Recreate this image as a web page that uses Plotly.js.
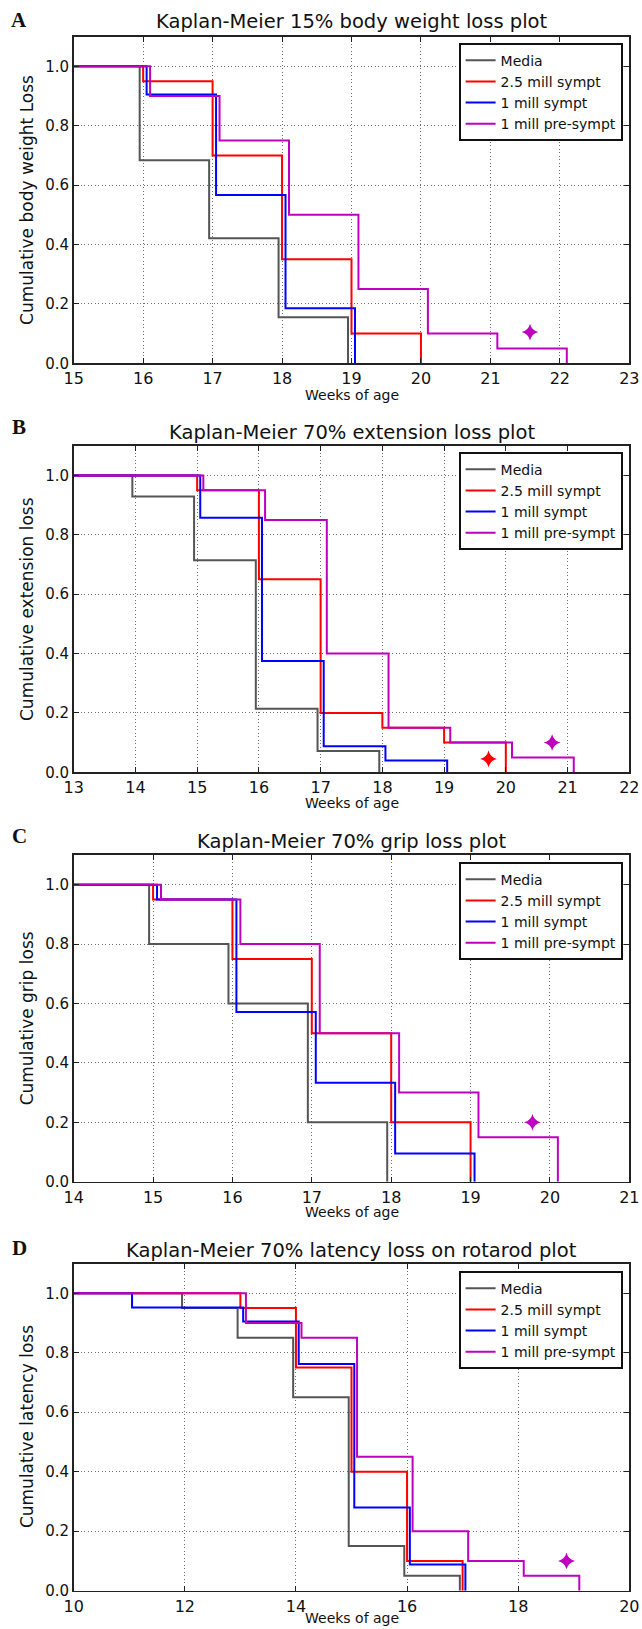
<!DOCTYPE html>
<html>
<head>
<meta charset="utf-8">
<script src="https://cdn.plot.ly/plotly-3.0.1.min.js"></script>
<style>
  html, body { margin: 0; padding: 0; background: #ffffff; }
  #chart { width: 642px; height: 1629px; }
</style>
</head>
<body>
<div id="chart"></div>
<script>
// ---------------- DATA ----------------
const seriesNames = ["Media", "2.5 mill sympt", "1 mill sympt", "1 mill pre-sympt"];
const panelLetters = ["A", "B", "C", "D"];
const panelTitles = [
  "Kaplan-Meier 15% body weight loss plot",
  "Kaplan-Meier 70% extension loss plot",
  "Kaplan-Meier 70% grip loss plot",
  "Kaplan-Meier 70% latency loss on rotarod plot"
];
const yTitles = [
  "Cumulative body weight Loss",
  "Cumulative extension loss",
  "Cumulative grip loss",
  "Cumulative latency loss"
];
const xTitle = "Weeks of age";

// x axis ranges and ticks
const xRangeA = [15, 23]; const xTicksA = [15, 16, 17, 18, 19, 20, 21, 22, 23];
const xRangeB = [13, 22]; const xTicksB = [13, 14, 15, 16, 17, 18, 19, 20, 21, 22];
const xRangeC = [14, 21]; const xTicksC = [14, 15, 16, 17, 18, 19, 20, 21];
const xRangeD = [10, 20]; const xTicksD = [10, 12, 14, 16, 18, 20];
const yRange = [0, 1.1];
const yTickVals = [0.0, 0.2, 0.4, 0.6, 0.8, 1.0];
const yTickText = ["0.0", "0.2", "0.4", "0.6", "0.8", "1.0"];

// Panel A : 15% body weight loss  (event times, level after each step)
const timesA_media = [15.95, 16.95, 17.95, 18.95];
const levelsA_media = [0.684, 0.421, 0.155, 0.0];
const timesA_r25 = [16.0, 17.0, 18.0, 19.0, 20.0];
const levelsA_r25 = [0.95, 0.70, 0.35, 0.10, 0.0];
const timesA_b1 = [16.05, 17.05, 18.05, 19.05];
const levelsA_b1 = [0.905, 0.567, 0.185, 0.0];
const timesA_pre = [16.1, 17.1, 18.1, 19.1, 20.1, 21.1, 22.1];
const levelsA_pre = [0.90, 0.75, 0.50, 0.25, 0.10, 0.05, 0.0];
const starsA_x = [21.57]; const starsA_y = [0.105]; const starsA_series = [3];

// Panel B : 70% extension loss
const timesB_media = [13.95, 14.95, 15.95, 16.95, 17.95];
const levelsB_media = [0.929, 0.714, 0.214, 0.072, 0.0];
const timesB_r25 = [15.0, 16.0, 17.0, 18.0, 19.0, 20.0];
const levelsB_r25 = [0.95, 0.65, 0.20, 0.15, 0.10, 0.0];
const timesB_b1 = [15.05, 16.05, 17.05, 18.05, 19.05];
const levelsB_b1 = [0.857, 0.375, 0.088, 0.040, 0.0];
const timesB_pre = [15.1, 16.1, 17.1, 18.1, 19.1, 20.1, 21.1];
const levelsB_pre = [0.95, 0.85, 0.40, 0.15, 0.10, 0.05, 0.0];
const starsB_x = [19.72, 20.75]; const starsB_y = [0.045, 0.10]; const starsB_series = [1, 3];

// Panel C : 70% grip loss
const timesC_media = [14.95, 15.95, 16.95, 17.95];
const levelsC_media = [0.80, 0.60, 0.20, 0.0];
const timesC_r25 = [15.0, 16.0, 17.0, 18.0, 19.0];
const levelsC_r25 = [0.95, 0.75, 0.50, 0.20, 0.0];
const timesC_b1 = [15.05, 16.05, 17.05, 18.05, 19.05];
const levelsC_b1 = [0.95, 0.571, 0.333, 0.095, 0.0];
const timesC_pre = [15.1, 16.1, 17.1, 18.1, 19.1, 20.1];
const levelsC_pre = [0.95, 0.80, 0.50, 0.30, 0.15, 0.0];
const starsC_x = [19.78]; const starsC_y = [0.20]; const starsC_series = [3];

// Panel D : 70% latency loss on rotarod
const timesD_media = [11.95, 12.95, 13.95, 14.95, 15.95, 16.95];
const levelsD_media = [0.95, 0.85, 0.65, 0.15, 0.05, 0.0];
const timesD_r25 = [13.0, 14.0, 15.0, 16.0, 17.0];
const levelsD_r25 = [0.95, 0.75, 0.40, 0.10, 0.0];
const timesD_b1 = [11.05, 13.05, 14.05, 15.05, 16.05, 17.05];
const levelsD_b1 = [0.952, 0.905, 0.762, 0.28, 0.088, 0.0];
const timesD_pre = [13.1, 14.1, 15.1, 16.1, 17.1, 18.1, 19.1];
const levelsD_pre = [0.90, 0.85, 0.45, 0.20, 0.10, 0.05, 0.0];
const starsD_x = [18.87]; const starsD_y = [0.10]; const starsD_series = [3];

// ---------------- STYLE / GEOMETRY ----------------
const seriesColors = ["#555555", "#ff0000", "#0000ff", "#bf00bf"];
const W = 642, H = 1629;
const plotLeft = 73.7, plotRight = 629.3;
const panelTops = [36.6, 445.7, 855.0, 1263.5];
const panelBottoms = [363.3, 772.3, 1181.7, 1590.7];
const titleY = [22, 432, 841, 1250];
const letterY = [20, 427, 836, 1248];
const xTitleY = [395, 803, 1212, 1618];
const legendTop = [43, 452, 862, 1271];
const legendRight = 623;

const FONT = "DejaVu Sans, sans-serif";
function px(x) { return x / W; }
function py(y) { return 1 - y / H; }

const panels = [
  { xr: xRangeA, xt: xTicksA, t: [timesA_media, timesA_r25, timesA_b1, timesA_pre],
    l: [levelsA_media, levelsA_r25, levelsA_b1, levelsA_pre], sx: starsA_x, sy: starsA_y, ss: starsA_series },
  { xr: xRangeB, xt: xTicksB, t: [timesB_media, timesB_r25, timesB_b1, timesB_pre],
    l: [levelsB_media, levelsB_r25, levelsB_b1, levelsB_pre], sx: starsB_x, sy: starsB_y, ss: starsB_series },
  { xr: xRangeC, xt: xTicksC, t: [timesC_media, timesC_r25, timesC_b1, timesC_pre],
    l: [levelsC_media, levelsC_r25, levelsC_b1, levelsC_pre], sx: starsC_x, sy: starsC_y, ss: starsC_series },
  { xr: xRangeD, xt: xTicksD, t: [timesD_media, timesD_r25, timesD_b1, timesD_pre],
    l: [levelsD_media, levelsD_r25, levelsD_b1, levelsD_pre], sx: starsD_x, sy: starsD_y, ss: starsD_series }
];

const traces = [];
const layout = {
  width: W, height: H,
  margin: { l: 0, r: 0, t: 0, b: 0 },
  paper_bgcolor: "#ffffff",
  plot_bgcolor: "#ffffff",
  font: { family: FONT, color: "#000000" },
  showlegend: true,
  annotations: []
};

panels.forEach((p, i) => {
  const k = i + 1;
  const xa = k === 1 ? "x" : "x" + k;
  const ya = k === 1 ? "y" : "y" + k;
  const lg = k === 1 ? "legend" : "legend" + k;

  p.t.forEach((times, s) => {
    traces.push({
      type: "scatter", mode: "lines",
      x: [0].concat(times), y: [1].concat(p.l[s]),
      line: { shape: "hv", color: seriesColors[s], width: 2 },
      name: seriesNames[s], xaxis: xa, yaxis: ya, legend: lg,
      showlegend: true, hoverinfo: "skip"
    });
  });
  p.sx.forEach((sxv, j) => {
    traces.push({
      type: "scatter", mode: "markers",
      x: [sxv], y: [p.sy[j]],
      marker: { symbol: "star-diamond", size: 12, color: seriesColors[p.ss[j]], line: { width: 0 } },
      xaxis: xa, yaxis: ya, showlegend: false, hoverinfo: "skip"
    });
  });

  const axCommon = {
    showgrid: true, gridcolor: "#6f6f6f", gridwidth: 1, griddash: "1px,2.5px",
    showline: true, linecolor: "#222222", linewidth: 1.6, mirror: "ticks",
    ticks: "inside", ticklen: 5, tickwidth: 1, tickcolor: "#222222",
    zeroline: false, fixedrange: true
  };
  layout["xaxis" + (k === 1 ? "" : k)] = Object.assign({}, axCommon, {
    domain: [px(plotLeft), px(plotRight)], anchor: ya,
    range: p.xr, tickmode: "array", tickvals: p.xt, ticktext: p.xt.map(String),
    tickfont: { family: FONT, size: 16, color: "#111111" }
  });
  layout["yaxis" + (k === 1 ? "" : k)] = Object.assign({}, axCommon, {
    domain: [py(panelBottoms[i]), py(panelTops[i])], anchor: xa,
    range: yRange, tickmode: "array", tickvals: yTickVals, ticktext: yTickText,
    tickfont: { family: FONT, size: 15, color: "#111111" }
  });
  layout[lg] = {
    x: px(legendRight), xanchor: "right", y: py(legendTop[i]), yanchor: "top",
    bgcolor: "#ffffff", bordercolor: "#111111", borderwidth: 1.6,
    font: { family: FONT, size: 14, color: "#111111" }
  };

  const midX = (plotLeft + plotRight) / 2;
  layout.annotations.push(
    { text: panelTitles[i], xref: "paper", yref: "paper", x: px(midX), y: py(titleY[i]),
      xanchor: "center", yanchor: "middle", showarrow: false, font: { family: FONT, size: 19.5, color: "#111111" } },
    { text: "<b>" + panelLetters[i] + "</b>", xref: "paper", yref: "paper", x: px(19), y: py(letterY[i]),
      xanchor: "center", yanchor: "middle", showarrow: false, font: { family: "Liberation Serif, serif", size: 21, color: "#111111" } },
    { text: xTitle, xref: "paper", yref: "paper", x: px(midX), y: py(xTitleY[i]),
      xanchor: "center", yanchor: "middle", showarrow: false, font: { family: FONT, size: 14, color: "#111111" } },
    { text: yTitles[i], xref: "paper", yref: "paper", x: px(27), y: py((panelTops[i] + panelBottoms[i]) / 2),
      xanchor: "center", yanchor: "middle", textangle: -90, showarrow: false, font: { family: FONT, size: 17, color: "#111111" } }
  );
});

Plotly.newPlot("chart", traces, layout, { staticPlot: true, displayModeBar: false });
</script>
</body>
</html>
